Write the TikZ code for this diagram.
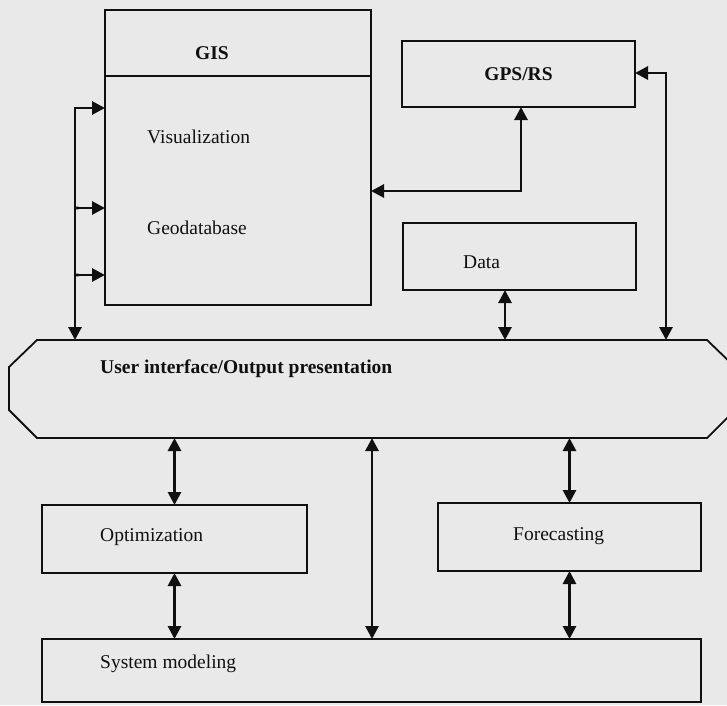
\documentclass[tikz,border=0pt]{standalone}
\usepackage{fontspec}
\setmainfont{Liberation Serif}
\usepackage{xcolor}
\usepackage{tikz}
\usetikzlibrary{arrows.meta,positioning,calc}
\definecolor{paper}{HTML}{E9E9E9}
\definecolor{ink}{HTML}{101010}

\begin{document}
\begin{tikzpicture}[x=1pt, y=-1pt, every node/.style={font=\fontsize{19.5}{22}\selectfont, text=ink},
    box/.style={draw=ink, line width=1.8pt, inner sep=0pt, outer sep=0pt, anchor=north west},
    lbl/.style={inner sep=0pt, anchor=west},
    both/.style={draw=ink, line width=2.8pt, {Triangle[length=13pt, width=13pt]}-{Triangle[length=13pt, width=13pt]}}]
        \fill[paper] (0,0) rectangle (727,705);
        \useasboundingbox (0,0) rectangle (727,705);
        % GIS block
        \node[box, minimum width=266pt, minimum height=295pt] (gis) at (105,10) {};
        \draw[ink, line width=1.8pt] ([yshift=-66pt]gis.north west) -- ([yshift=-66pt]gis.north east);
        \node[lbl] (gistxt) at (195,53) {\bfseries GIS};
        \node[lbl] (vistxt) at (147,137) {Visualization};
        \node[lbl] (geotxt) at (147,228) {Geodatabase};
        % right column
        \node[box, minimum width=233pt, minimum height=66pt] (gps) at (402,41) {\bfseries GPS/RS};
        \node[box, minimum width=233pt, minimum height=67pt] (data) at (403,223) {};
        \node[lbl] (datatxt) at (463,262) {Data};
        % user interface band
        \node[inner sep=0pt, outer sep=0pt, anchor=north west, minimum width=670pt, minimum height=98pt] (ui) at (37,340) {};
        \draw[ink, line width=1.8pt] (ui.north west) -- (ui.north east) -- ++(28,27) -- ++(0,43) -- (ui.south east) -- (ui.south west) -- ++(-28,-28) -- ++(0,-43) -- cycle;
        \node[lbl] (uitxt) at (100,369) {\bfseries User interface/Output presentation};
        % lower blocks
        \node[box, minimum width=265pt, minimum height=68pt] (opt) at (42,505) {};
        \node[lbl] (opttxt) at (100,537) {Optimization};
        \node[box, minimum width=263pt, minimum height=68pt] (fc) at (438,503) {};
        \node[lbl] (fctxt) at (513,536) {Forecasting};
        \node[box, minimum width=659pt, minimum height=63pt] (sys) at (42,639) {};
        \node[lbl] (systxt) at (100,664) {System modeling};
        % connectors
        \coordinate (b1) at (75,108);
        \coordinate (b2) at (75,208);
        \coordinate (b3) at (75,275);
        \draw[both] (b1 -| gis.west) -- (b1) -- (b1 |- ui.north);
        \foreach \c in {b2,b3}{\draw[both, {Butt Cap}-{Triangle[length=13pt, width=13pt]}] (\c) -- (\c -| gis.west);}
        \coordinate (gisgps) at (521,191);
        \draw[both] (gis.east |- gisgps) -- (gisgps) -- (gisgps |- gps.south);
        \coordinate (rbus) at (666,73);
        \draw[both] (gps.east |- rbus) -- (rbus) -- (rbus |- ui.north);
        \coordinate (dx) at (505,0);
        \draw[both] (data.south -| dx) -- (ui.north -| dx);
        \coordinate (mx) at (372,0);
        \draw[both] (ui.south -| mx) -- (sys.north -| mx);
        \foreach \n in {opt,fc}{
            \draw[both] (\n.north) -- (\n.north |- ui.south);
            \draw[both] (\n.south) -- (\n.south |- sys.north);
        }
      \end{tikzpicture}
\end{document}
